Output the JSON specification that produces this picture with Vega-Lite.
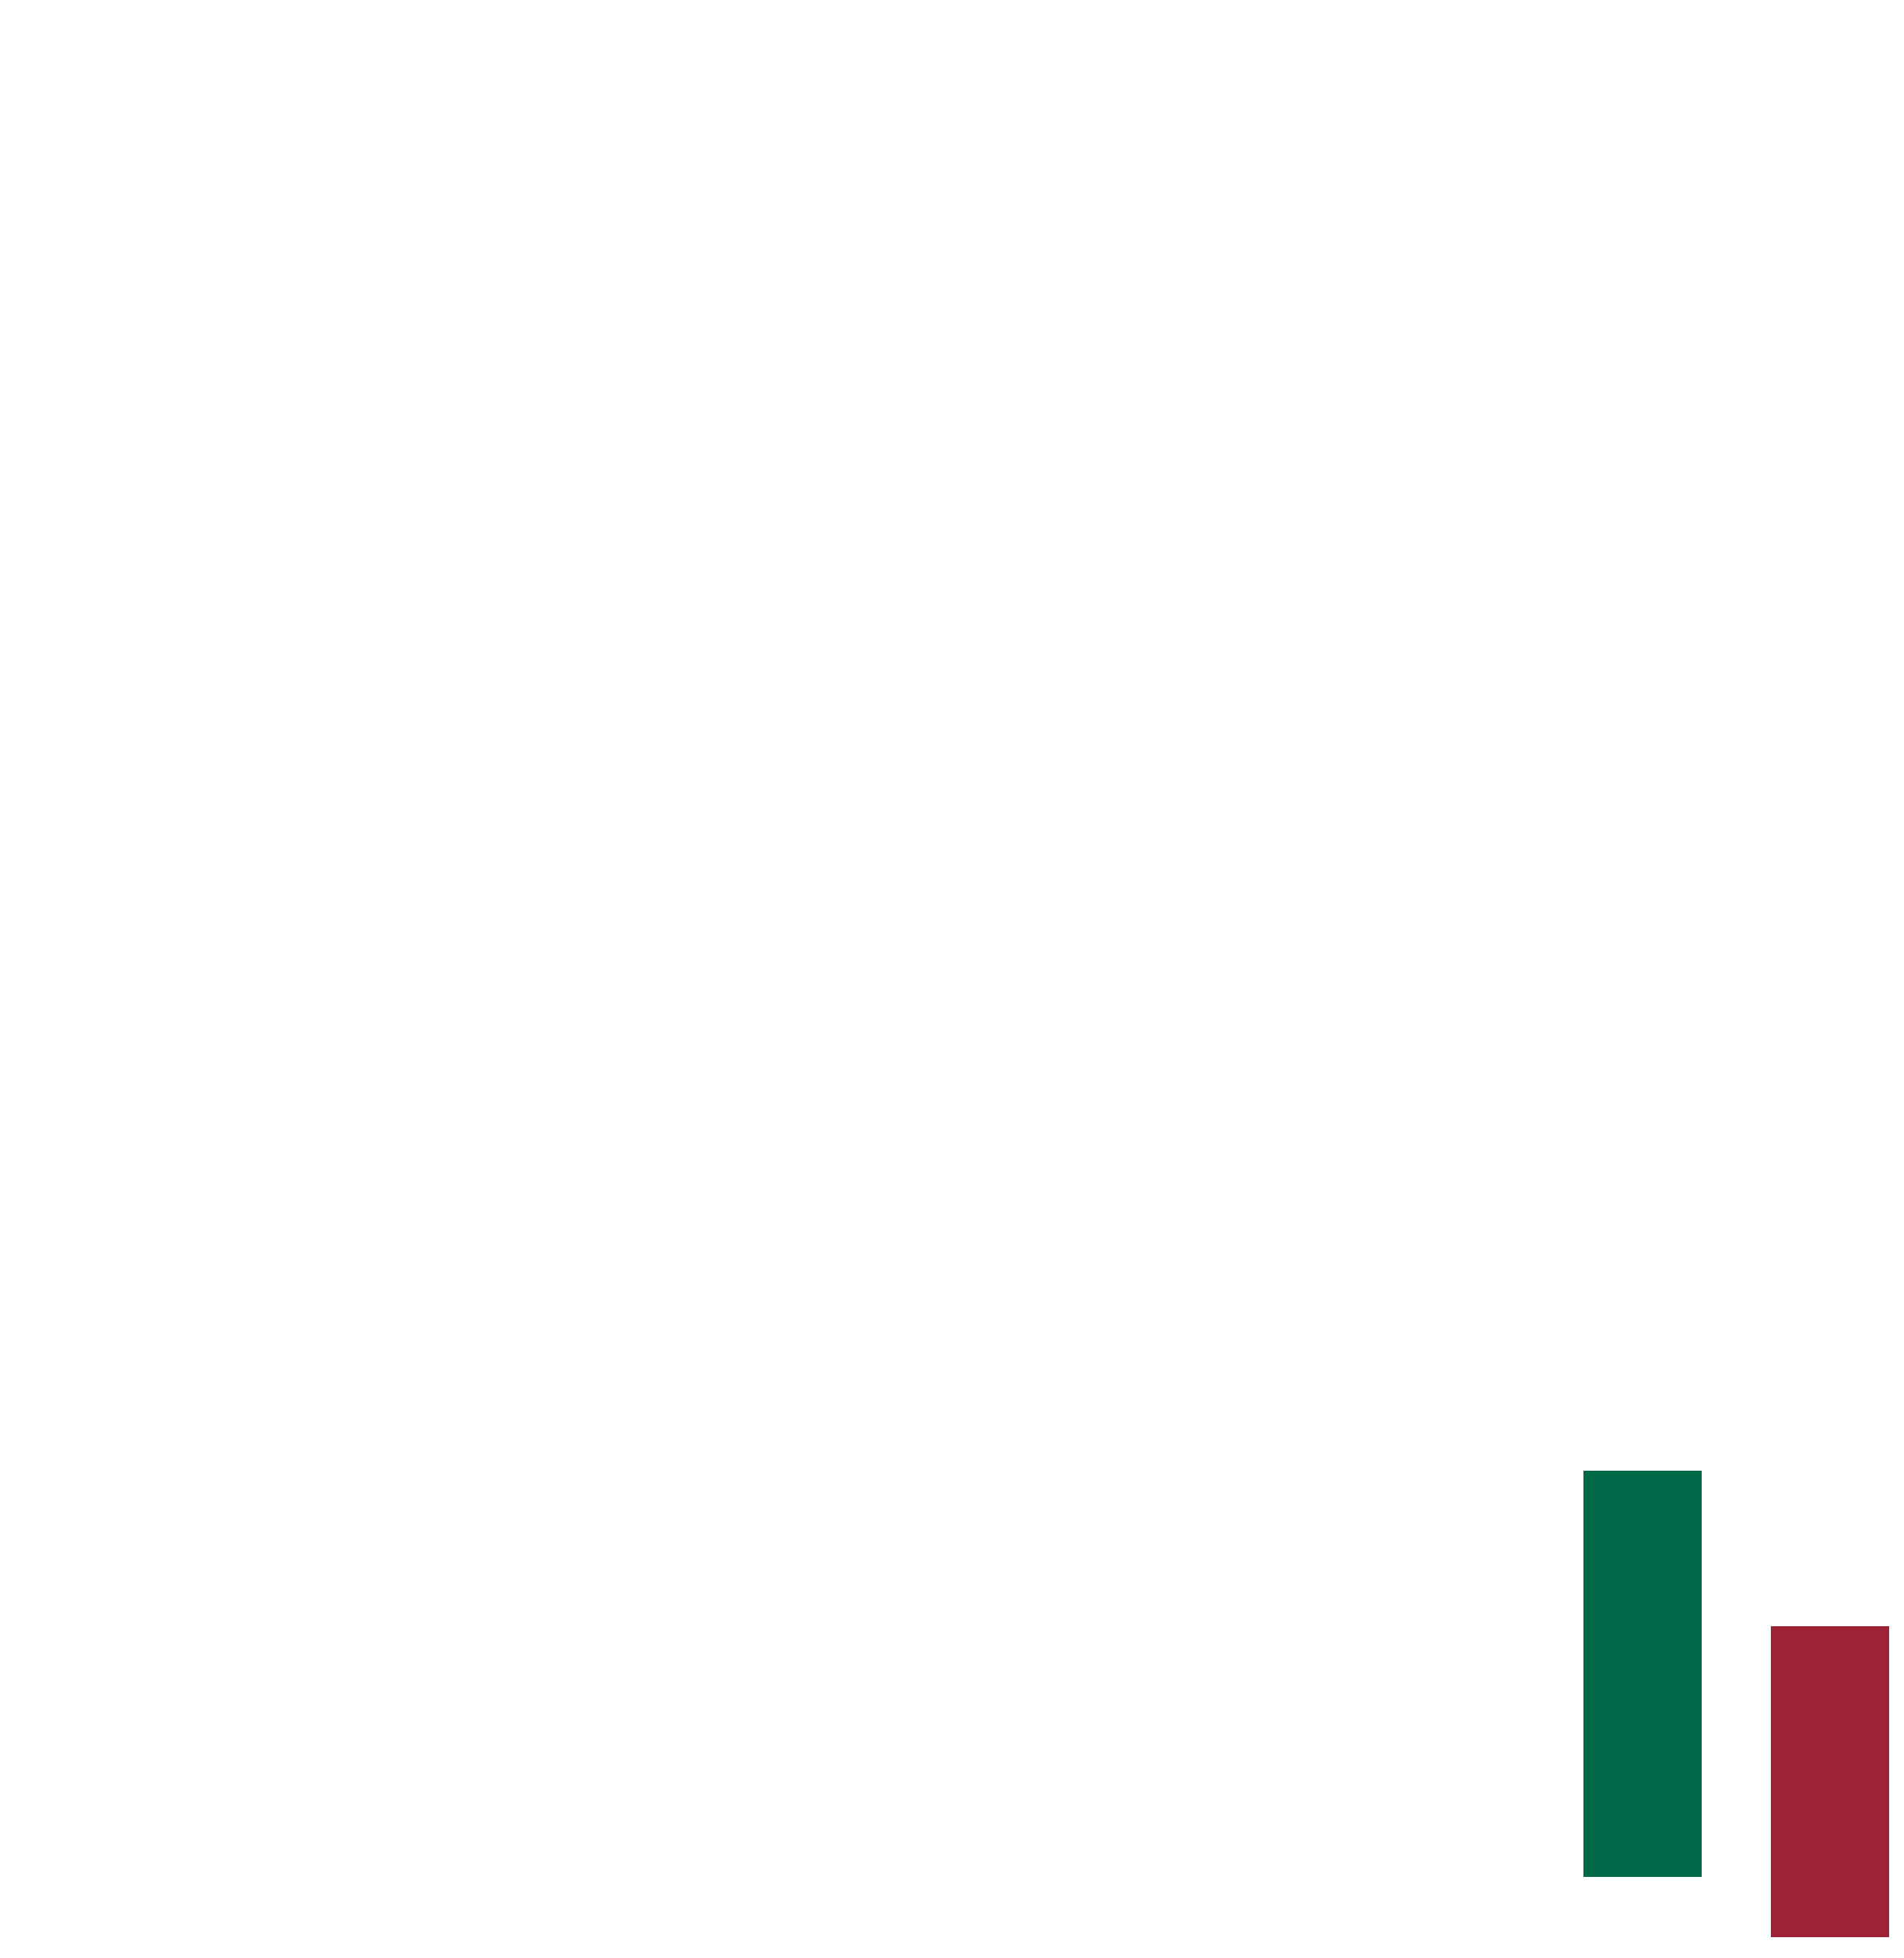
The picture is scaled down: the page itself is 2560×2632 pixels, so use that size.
{
  "$schema": "https://vega.github.io/schema/vega-lite/v6.json",
  "width": 2560,
  "height": 2632,
  "autosize": {"type": "none"},
  "padding": 0,
  "background": "#ffffff",
  "config": {"view": {"stroke": null}},
  "data": {
    "values": [
      {"category": "A", "start": 4.14, "end": 24.89, "kind": "up"},
      {"category": "B", "start": 1.06, "end": 16.95, "kind": "down"}
    ]
  },
  "mark": {"type": "bar"},
  "encoding": {
    "x": {
      "field": "category",
      "type": "nominal",
      "axis": null,
      "scale": {"range": [2109, 2560], "paddingInner": 0.369, "paddingOuter": 0.0794}
    },
    "y": {
      "field": "start",
      "type": "quantitative",
      "axis": null,
      "scale": {"domain": [0, 100], "nice": false, "zero": false}
    },
    "y2": {"field": "end"},
    "color": {
      "field": "kind",
      "type": "nominal",
      "legend": null,
      "scale": {"domain": ["up", "down"], "range": ["#026948", "#9e2236"]}
    }
  }
}
